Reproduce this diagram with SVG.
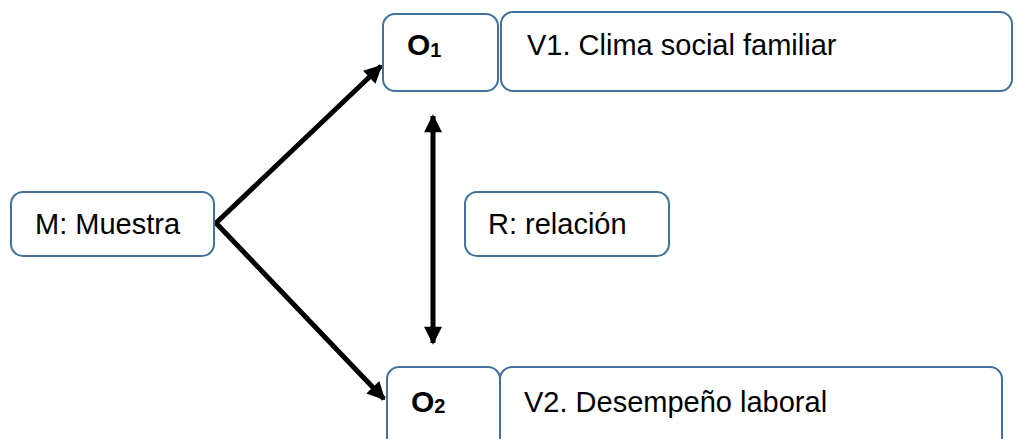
<svg xmlns="http://www.w3.org/2000/svg" width="1019" height="439" viewBox="0 0 1019 439">
<style>
.box{fill:#fff;stroke:#41719C;stroke-width:2}
.t{font-family:"Liberation Sans",Arial,sans-serif;font-size:29px;fill:#000}
.b{font-weight:bold;font-size:30px}
.c{stroke:#000;stroke-width:5;fill:none}
</style>
<defs>
<marker id="ah" viewBox="0 0 10 10" refX="9" refY="5" markerWidth="3.8" markerHeight="3.6" orient="auto-start-reverse" markerUnits="strokeWidth">
<path d="M0,0 L10,5 L0,10 z" fill="#000"/>
</marker>
</defs>
<g id="connectors">
<polyline class="c" points="381,66 216,223 384,399" marker-start="url(#ah)" marker-end="url(#ah)" stroke-linejoin="miter"/>
<line class="c" x1="433" y1="116" x2="433" y2="343" stroke-width="5.5" marker-start="url(#ah)" marker-end="url(#ah)"/>
</g>
<g id="M">
<rect class="box" x="11" y="192" width="203" height="64" rx="12"/>
<text class="t" x="35" y="234">M: Muestra</text>
</g>
<g id="O1">
<rect class="box" x="383" y="14" width="115" height="77" rx="12"/>
<text class="t b" x="407" y="55">O<tspan font-size="20" dy="2">1</tspan></text>
</g>
<g id="V1">
<rect class="box" x="501" y="12" width="511" height="79" rx="12"/>
<text class="t" x="527" y="55">V1. Clima social familiar</text>
</g>
<g id="R">
<rect class="box" x="465" y="192" width="204" height="64" rx="12"/>
<text class="t" x="488" y="234">R: relación</text>
</g>
<g id="O2">
<rect class="box" x="387" y="367" width="113" height="90" rx="12"/>
<text class="t b" x="411" y="412">O<tspan font-size="20" dy="1">2</tspan></text>
</g>
<g id="V2">
<rect class="box" x="500" y="367" width="502" height="90" rx="12"/>
<text class="t" x="524" y="412">V2. Desempeño laboral</text>
</g>
</svg>
